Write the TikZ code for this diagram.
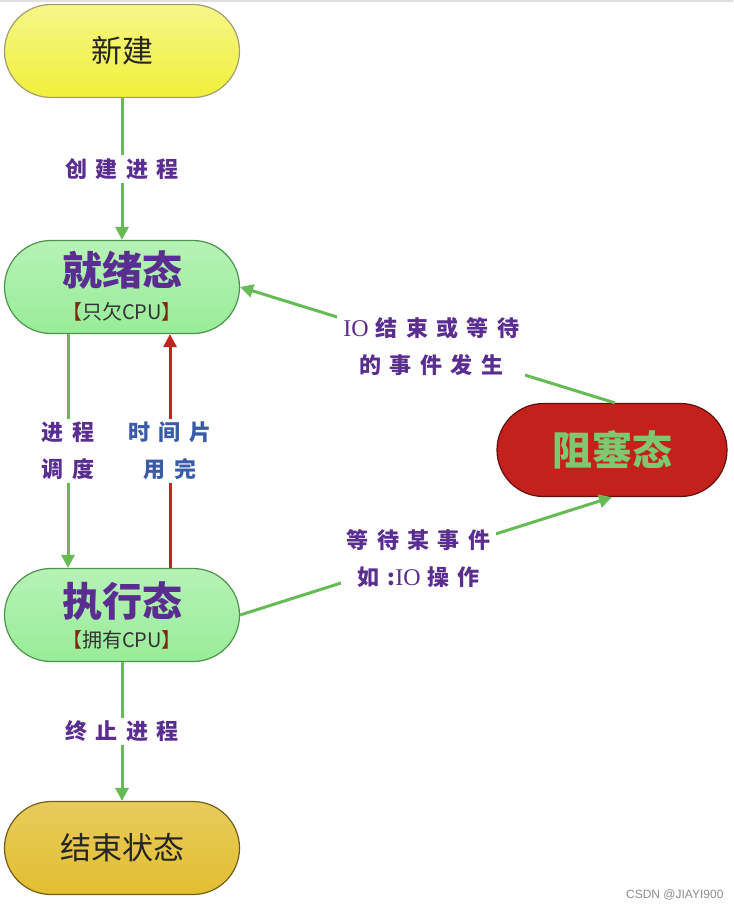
\documentclass[tikz,border=0pt]{standalone}
\usepackage{fontspec}
\setmainfont{Noto Sans CJK SC}
\newfontfamily\wmfont{Liberation Sans}
\newfontfamily\iofont{Liberation Serif}
\usetikzlibrary{arrows.meta,shapes.misc}
\definecolor{ptext}{HTML}{5A2D91}
\definecolor{btext}{HTML}{3A5CA8}
\definecolor{gline}{HTML}{66BB55}
\definecolor{rline}{HTML}{C62020}
\definecolor{yfill}{HTML}{F0F03A}
\definecolor{gfill}{HTML}{98EC98}
\definecolor{ofill}{HTML}{E2BE32}
\definecolor{rfill}{HTML}{C4201C}
\definecolor{rtext}{HTML}{7DC870}
\definecolor{brk}{HTML}{7A2A10}
\newcommand{\iotxt}{{\iofont\mdseries\fontsize{24}{37}\selectfont IO}\hspace{7pt}}
\begin{document}
\begin{tikzpicture}[x=1pt,y=-1pt,
  state/.style={rounded rectangle, draw, line width=1.2pt, minimum width=235pt, minimum height=93pt,
    inner sep=0pt, text height=0pt, text depth=0pt},
  txt/.style={inner sep=0pt},
  arr/.style={line width=3pt, -{Triangle[length=13pt,width=13pt]}},
  lbl/.style={fill=white, inner sep=3pt, align=center, text=ptext,
    font=\fontsize{22}{37}\selectfont\bfseries\addfontfeature{LetterSpace=38}},
  big/.style={font=\fontsize{40}{42}\selectfont\bfseries},
  sub/.style={font=\fontsize{20}{22}\selectfont, text=black!80}
]
\useasboundingbox (0,0) rectangle (733,912);
\fill[white] (0,0) rectangle (733,912);
\draw[black!12, line width=2pt] (0,1) -- (733,1);

\node[state, draw=yellow!40!black!70, top color=yfill!60!white, bottom color=yfill] (n) at (122,51) {};
\node[txt, font=\fontsize{31}{32}\selectfont, text=black!85] (nt) at (122,51) {新建};

\node[state, draw=green!40!black!70, top color=gfill!70!white, bottom color=gfill] (r) at (122,287) {};
\node[txt, big, text=ptext] (rt) at (122,270) {就绪态};
\node[txt, sub] (rs) at (122,312) {{\color{brk}【}只欠CPU{\color{brk}】}};

\node[state, draw=green!40!black!70, top color=gfill!70!white, bottom color=gfill] (e) at (122,615) {};
\node[txt, big, text=ptext] (et) at (122,601) {执行态};
\node[txt, sub] (es) at (122,640) {{\color{brk}【}拥有CPU{\color{brk}】}};

\node[state, draw=ofill!50!black, top color=ofill!80!white, bottom color=ofill] (t) at (122,848) {};
\node[txt, font=\fontsize{31}{32}\selectfont, text=black!85] (tt) at (122,848) {结束状态};

\node[state, draw=rfill!50!black, fill=rfill, minimum width=230pt] (b) at (612,450) {};
\node[txt, big, text=rtext] (bt) at (612,450) {阻塞态};

\draw[arr, gline] (n.south) -- node[lbl] {创建进程} (r.north);
\draw[arr, gline] ([xshift=-54pt]r.south) -- node[lbl] {进程\\调度} ([xshift=-54pt]e.north);
\draw[arr, rline] ([xshift=48pt]e.north) -- node[lbl, text=btext] {时间片\\用完} ([xshift=48pt]r.south);
\draw[arr, gline] (e.south) -- node[lbl] {终止进程} (t.north);
\draw[arr, gline] ([xshift=3pt]b.north) -- node[lbl, pos=0.49, inner sep=6pt] {\iotxt 结束或等待\\的事件发生} (r.east);
\draw[arr, gline] (e.east) -- node[lbl, pos=0.48, inner sep=6pt] {等待某事件\\如:\iotxt 操作} (b.south);

\node[anchor=east, text=black!45, font=\wmfont\fontsize{12}{14}\selectfont] (wm) at (727,895) {CSDN @JIAYI900};
\end{tikzpicture}
\end{document}
